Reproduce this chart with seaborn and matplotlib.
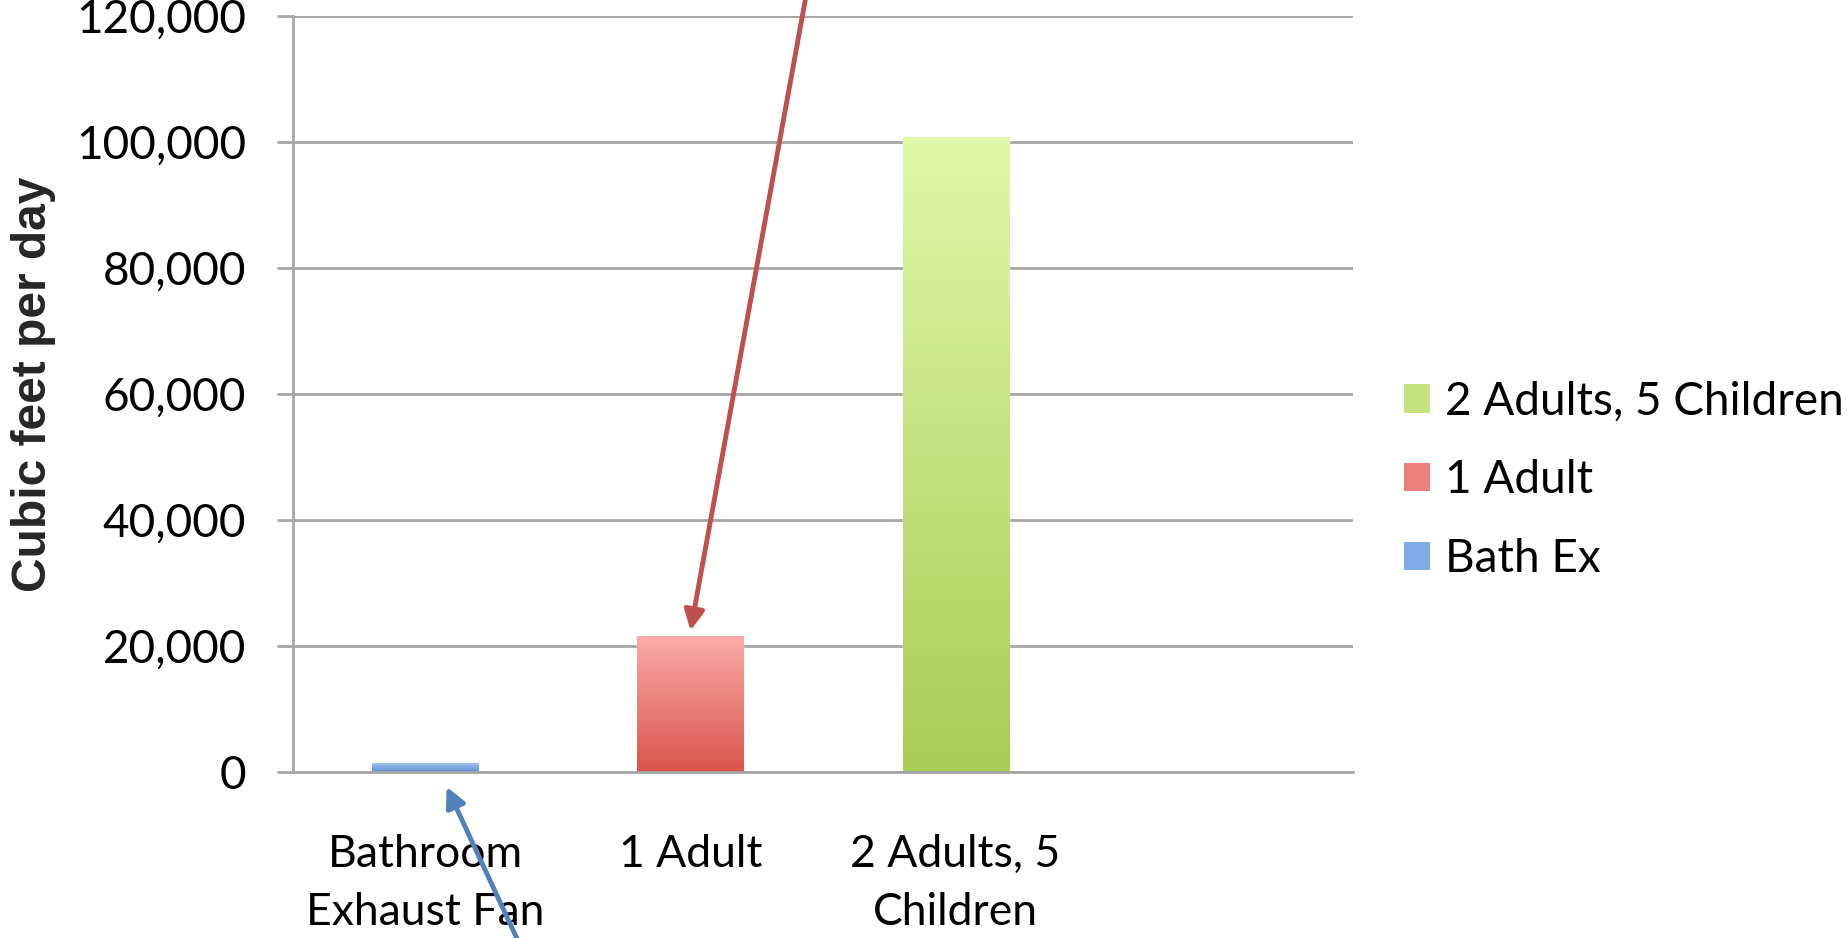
import numpy as np
import pandas as pd
import seaborn as sns
import matplotlib.pyplot as plt
from matplotlib.colors import LinearSegmentedColormap
from matplotlib.patches import Patch

categories = ['Bathroom\nExhaust Fan', '1 Adult', '2 Adults, 5\nChildren']
series_names = ['Bath Ex', '1 Adult', '2 Adults, 5 Children']
values = [1440, 21600, 100800]
yticks = [0, 20000, 40000, 60000, 80000, 100000, 120000]

# top / bottom colours of each bar gradient
top_cols = ['#A7C8F4', '#FCACAA', '#E0F8A9']
bot_cols = ['#5A8DD5', '#D9544B', '#A9CC56']
mid_cols = ['#7EAAE6', '#EC7F7A', '#C4E37F']

sns.set_style('white')
plt.rcParams['font.family'] = ['Lato', 'DejaVu Sans']
plt.rcParams['text.color'] = 'black'
plt.rcParams['xtick.color'] = 'black'
plt.rcParams['ytick.color'] = 'black'

fig = plt.figure(figsize=(18.48, 9.38), dpi=100)
ax = fig.add_axes([0.1585, 0.1773, 0.5737, 0.8057])

df = pd.DataFrame({'cat': categories, 'val': values, 'ser': series_names})
sns.barplot(data=df, x='cat', y='val', hue='ser', palette=mid_cols,
            width=0.4, dodge=False, legend=False, ax=ax, saturation=1)

# vertical gradient on each bar
for patch, c_top, c_bot in zip(ax.patches, top_cols, bot_cols):
    x0, y0 = patch.get_x(), patch.get_y()
    w, h = patch.get_width(), patch.get_height()
    if h == 0 or np.isnan(h):
        continue
    cmap = LinearSegmentedColormap.from_list('g', [c_bot, c_top])
    grad = np.linspace(0, 1, 256).reshape(-1, 1)
    im = ax.imshow(grad, cmap=cmap, extent=[x0, x0 + w, y0, y0 + h],
                   origin='lower', aspect='auto', zorder=patch.get_zorder() + 0.1)
    im.set_clip_path(patch)

ax.set_xlim(-0.5, 3.5)
ax.set_ylim(0, 120000)
ax.set_yticks(yticks)
ax.set_yticklabels([f'{v:,}' for v in yticks], fontsize=33)
ax.set_xticks([0, 1, 2])
ax.set_xticklabels(categories, fontsize=32, linespacing=1.5)
ax.set_xticks([-0.5, 0.5, 1.5, 2.5, 3.5], minor=True)
ax.tick_params(axis='x', which='major', length=0, pad=45)
ax.tick_params(axis='x', which='minor', length=11.5, width=2, color='#A6A6A6', direction='out')
ax.tick_params(axis='y', length=11.5, width=2, color='#A6A6A6', pad=22, direction='out', left=True)

ax.grid(axis='y', color='#A6A6A6', linewidth=2)
ax.set_axisbelow(True)
for s in ['top', 'right']:
    ax.spines[s].set_visible(False)
for s in ['left', 'bottom']:
    ax.spines[s].set_color('#A6A6A6')
    ax.spines[s].set_linewidth(2)

ax.set_xlabel('')
ax.set_ylabel('Cubic feet per day', fontsize=34.5, fontweight='bold',
              family='Liberation Sans')
ax.yaxis.set_label_coords(-0.2236, 0.5125)

handles = [Patch(facecolor=c, edgecolor='none') for c in mid_cols]
leg = fig.legend(handles[::-1], series_names[::-1], loc='center left',
                 bbox_to_anchor=(0.7596, 0.488), frameon=False, fontsize=33,
                 handlelength=0.57, handleheight=0.57, handletextpad=0.33,
                 labelspacing=0.8, borderaxespad=0, borderpad=0)

# arrows pointing at the two small bars
ax.annotate('', xy=(1, values[1] + 800), xycoords='data',
            xytext=(0.4376, 1.02), textcoords='figure fraction',
            arrowprops=dict(arrowstyle='-|>', color='#C0504D', lw=3.5,
                            mutation_scale=30, shrinkA=0, shrinkB=0),
            annotation_clip=False)
ax.annotate('', xy=(0.08, -2400), xycoords='data',
            xytext=(0.285, -0.023), textcoords='figure fraction',
            arrowprops=dict(arrowstyle='-|>', color='#4F81BD', lw=3.5,
                            mutation_scale=30, shrinkA=0, shrinkB=0),
            annotation_clip=False)

fig.savefig('out.png', dpi=100)
